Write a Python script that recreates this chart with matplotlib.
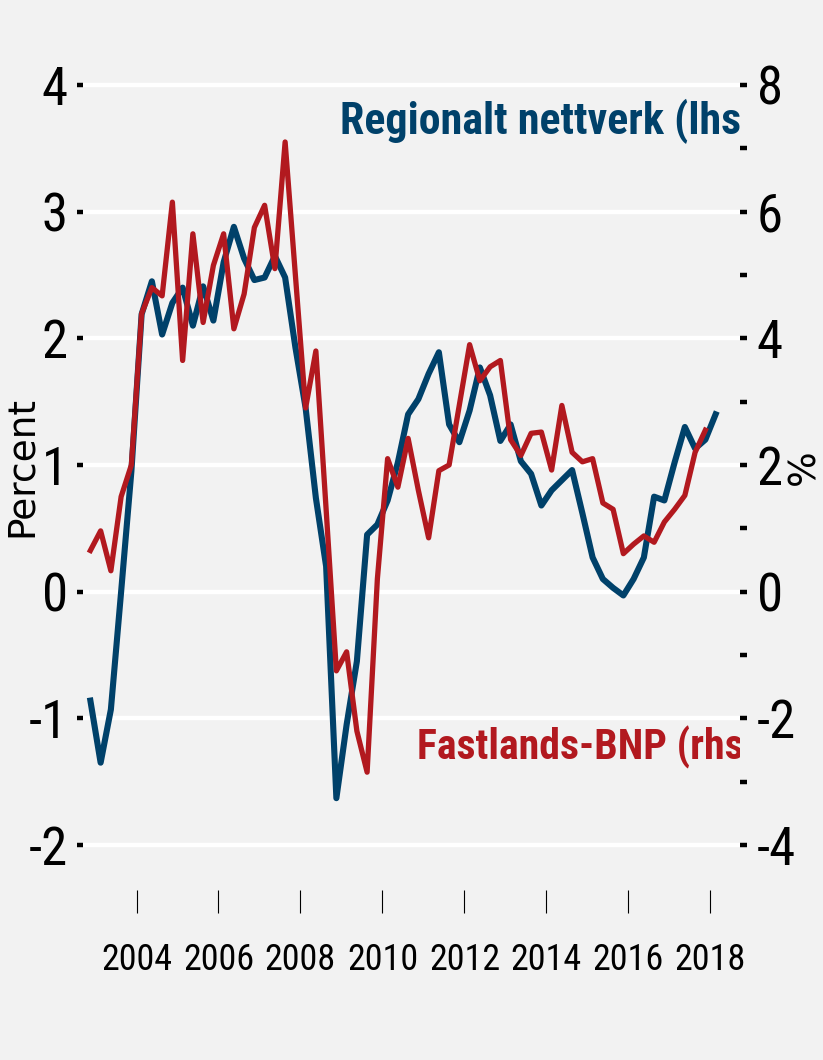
import numpy as np
import pandas as pd
import matplotlib
matplotlib.use('Agg')
import matplotlib.pyplot as plt
from matplotlib import font_manager

# Regionalt nettverk (venstre akse), kvartalsvis 2002K4 - 2018K1
quarters_nett = pd.period_range('2002Q4', '2018Q1', freq='Q')
nettverk = [-0.86, -1.35, -0.93, 0.0, 0.95, 2.19, 2.45, 2.03, 2.28, 2.4,
            2.1, 2.41, 2.14, 2.6, 2.88, 2.63, 2.46, 2.48, 2.65, 2.48,
            1.93, 1.45, 0.74, 0.2, -1.63, -1.05, -0.55, 0.45, 0.53, 0.72,
            1.02, 1.4, 1.52, 1.72, 1.89, 1.32, 1.18, 1.43, 1.77, 1.55,
            1.19, 1.32, 1.03, 0.93, 0.68, 0.8, 0.88, 0.96, 0.62, 0.27,
            0.1, 0.03, -0.03, 0.1, 0.27, 0.75, 0.72, 1.02, 1.3, 1.13,
            1.2, 1.4]

# Fastlands-BNP (hoyre akse), kvartalsvis 2002K4 - 2017K4
quarters_bnp = pd.period_range('2002Q4', '2017Q4', freq='Q')
bnp = [0.65, 0.96, 0.33, 1.5, 2.0, 4.39, 4.8, 4.67, 6.15, 3.65,
       5.65, 4.25, 5.15, 5.65, 4.15, 4.7, 5.75, 6.1, 5.1, 7.1,
       5.0, 2.9, 3.8, 1.3, -1.25, -0.95, -2.2, -2.85, 0.2, 2.1,
       1.65, 2.42, 1.6, 0.85, 1.91, 2.0, 2.95, 3.9, 3.33, 3.55,
       3.65, 2.4, 2.15, 2.5, 2.52, 1.92, 2.94, 2.2, 2.05, 2.1,
       1.4, 1.3, 0.6, 0.75, 0.88, 0.78, 1.1, 1.3, 1.52, 2.2, 2.55]

left_ticks = [-2, -1, 0, 1, 2, 3, 4]
right_ticks = list(range(-4, 9))
right_labels = [str(t) if t % 2 == 0 else '' for t in right_ticks]
year_ticks = list(range(2004, 2019, 2))

BLUE = '#00416a'
RED = '#b2191f'
BG = '#f2f2f2'


def pick_font(cands):
    names = {f.name for f in font_manager.fontManager.ttflist}
    for c in cands:
        if c in names:
            return c
    return 'DejaVu Sans'


narrow = pick_font(['Liberation Sans Narrow', 'Roboto Condensed',
                    'Open Sans Condensed', 'Arial Narrow'])


def to_year(periods):
    return np.array([p.year + (p.quarter - 0.5) / 4 for p in periods])


fig = plt.figure(figsize=(8.23, 10.6), dpi=100, facecolor=BG)
ax = fig.add_axes([83 / 823, 170 / 1060, 657 / 823, 830 / 1060], facecolor=BG)
ax2 = ax.twinx()

ax.plot(to_year(quarters_nett), nettverk, color=BLUE, lw=4.4, zorder=3)
ax2.plot(to_year(quarters_bnp), bnp, color=RED, lw=3.8, zorder=3)

ax.set_xlim(2002.695, 2018.72)
ax.set_ylim(-2.355, 4.197)
ax2.set_ylim(-4.71, 8.394)

for a in (ax, ax2):
    for s in a.spines.values():
        s.set_visible(False)

ax.set_yticks(left_ticks)
ax.set_yticklabels([str(t) for t in left_ticks])
ax2.set_yticks(right_ticks)
ax2.set_yticklabels(right_labels)
ax.set_xticks(year_ticks)
ax.set_xticklabels([str(y) for y in year_ticks])

ax.yaxis.grid(True, color='white', lw=3.2)
ax.set_axisbelow(True)

ax.tick_params(axis='y', length=4.3, width=3.2, pad=6.5, labelsize=38)
ax2.tick_params(axis='y', length=5, width=3.2, pad=7, labelsize=38)
ax.tick_params(axis='x', length=16.5, width=0.8, pad=21, labelsize=26)
for lab in ax.get_yticklabels() + ax2.get_yticklabels() + ax.get_xticklabels():
    lab.set_family(narrow)

ax.set_ylabel('Percent', fontsize=27, family='DejaVu Sans')
ax.yaxis.set_label_coords(-0.066, 0.51)
ax2.set_ylabel('%', fontsize=27, family='DejaVu Sans')
ax2.yaxis.set_label_coords(1.07, 0.51)

# serietekster, klippet ved plottets hoyre kant som i originalen
t1 = ax.text(0.391, 0.9265, 'Regionalt nettverk (lhs)', transform=ax.transAxes,
             color=BLUE, fontweight='bold', family=narrow, fontsize=30,
             ha='left', va='center', clip_on=True, zorder=5)
t2 = ax2.text(0.508, 0.172, 'Fastlands-BNP (rhs)', transform=ax2.transAxes,
              color=RED, fontweight='bold', family=narrow, fontsize=30,
              ha='left', va='center', clip_on=True, zorder=5)

# skaler fontstorrelsen slik at teksten uten ')' fyller bredden til kanten
renderer = fig.canvas.get_renderer()
for t, target in ((t1, 401), (t2, 326)):
    probe = fig.text(0, 0, t.get_text()[:-1], fontsize=30, family=narrow,
                     fontweight='bold')
    w = probe.get_window_extent(renderer).width
    probe.remove()
    t.set_fontsize(30 * target / w)

fig.savefig('out.png', dpi=100, facecolor=BG)
